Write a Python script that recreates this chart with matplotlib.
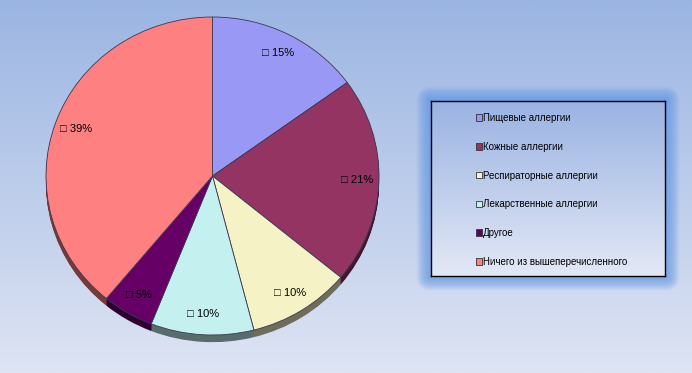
import numpy as np
import matplotlib.pyplot as plt
from matplotlib.patches import Patch, FancyBboxPatch
from matplotlib.colors import LinearSegmentedColormap, to_rgb

plt.rcParams['font.family'] = ['Liberation Sans', 'DejaVu Sans']

# данные диаграммы
labels = ['Пищевые аллергии', 'Кожные аллергии', 'Респираторные аллергии',
          'Лекарственные аллергии', 'Другое', 'Ничего из вышеперечисленного']
values = [15, 21, 10, 10, 5, 39]
colors = ['#9999F5', '#933463', '#F5F3C5', '#C5F0F0', '#660066', '#FF8080']

W, H = 692, 373
fig = plt.figure(figsize=(W / 100, H / 100), dpi=100)

# фон - вертикальный градиент
bg = fig.add_axes([0, 0, 1, 1])
bg_cmap = LinearSegmentedColormap.from_list('bg', ['#DEE4F4', '#9BB5E2'])
bg.imshow(np.linspace(0, 1, 256).reshape(-1, 1), aspect='auto', cmap=bg_cmap,
          origin='lower', extent=[0, 1, 0, 1])
bg.set_xlim(0, 1)
bg.set_ylim(0, 1)
bg.axis('off')

# круговая диаграмма (слегка наклонена -> эллипс)
px_l, px_r, px_t, px_b = 46, 379, 17, 335
ax = fig.add_axes([px_l / W, 1 - px_b / H, (px_r - px_l) / W, (px_b - px_t) / H])

# боковая грань (тень) - несколько смещённых слоёв
dark = [tuple(c * 0.45 for c in to_rgb(col)) for col in colors]
for d in np.linspace(0.045, 0.005, 9):
    ax.pie(values, colors=dark, startangle=90, counterclock=False,
           center=(0, -d), radius=1, frame=True,
           wedgeprops=dict(linewidth=0))

wedges, texts, autotexts = ax.pie(
    values, colors=colors, startangle=90, counterclock=False,
    radius=1, frame=True, autopct='□ %.0f%%', pctdistance=0.87,
    wedgeprops=dict(edgecolor='#3A3A55', linewidth=0.6),
    textprops=dict(fontsize=8, color='black'))
ax.set_xlim(-1, 1)
ax.set_ylim(-1, 1)
ax.set_aspect('auto')
ax.axis('off')

# легенда в рамке с голубым свечением
lx0, lx1, ly0, ly1 = 431, 665, 101, 276
gl = fig.add_axes([0, 0, 1, 1])
gl.set_xlim(0, W)
gl.set_ylim(H, 0)
gl.axis('off')
for i in range(16, 0, -1):
    gl.add_patch(FancyBboxPatch((lx0, ly0), lx1 - lx0, ly1 - ly0,
                                boxstyle='round,pad=%.1f' % (i * 0.9),
                                facecolor='#5C95E6', edgecolor='none',
                                alpha=0.07))

lg = fig.add_axes([lx0 / W, 1 - ly1 / H, (lx1 - lx0) / W, (ly1 - ly0) / H])
lg_cmap = LinearSegmentedColormap.from_list('lg', ['#E3E8F5', '#9AB3E2'])
lg.imshow(np.linspace(0, 1, 256).reshape(-1, 1), aspect='auto', cmap=lg_cmap,
          origin='lower', extent=[0, 1, 0, 1])
lg.set_xlim(0, 1)
lg.set_ylim(0, 1)
lg.set_xticks([])
lg.set_yticks([])
for s in lg.spines.values():
    s.set_color('black')
    s.set_linewidth(1.0)

handles = [Patch(facecolor=c, edgecolor='#333333', linewidth=0.6) for c in colors]
lg.legend(handles, labels, loc='center left', bbox_to_anchor=(0.155, 0.492),
          frameon=False, fontsize=7, labelspacing=1.93,
          handlelength=0.65, handleheight=0.65, handletextpad=0.1)

fig.savefig('out.png', dpi=100)
